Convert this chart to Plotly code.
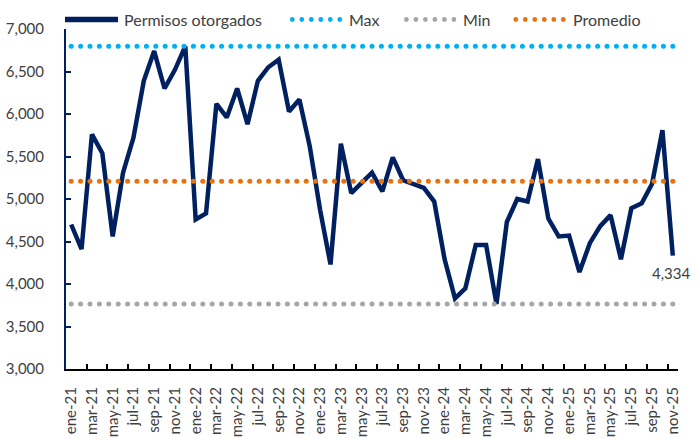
import numpy as np
import plotly.graph_objects as go

# ---------------- data ----------------
months = ["ene", "feb", "mar", "abr", "may", "jun", "jul", "ago", "sep", "oct", "nov", "dic"]
years = ["21", "22", "23", "24", "25"]
categories = [f"{m}-{y}" for y in years for m in months][:59]

permisos = [
    4700, 4410, 5760, 5540, 4560, 5310, 5720, 6390, 6740, 6300, 6520, 6797,   # 2021
    4760, 4830, 6120, 5960, 6300, 5880, 6390, 6550, 6640, 6030, 6170, 5620,   # 2022
    4870, 4230, 5650, 5070, 5190, 5310, 5090, 5490, 5220, 5180, 5130, 4970,   # 2023
    4290, 3830, 3950, 4460, 4460, 3765, 4730, 5000, 4970, 5470, 4770, 4560,   # 2024
    4570, 4140, 4480, 4680, 4810, 4290, 4890, 4950, 5180, 5810, 4334,         # 2025
]
max_val = max(permisos)
min_val = min(permisos)
promedio = 5210

series_names = ["Permisos otorgados", "Max", "Min", "Promedio"]
y_ticks = [3000, 3500, 4000, 4500, 5000, 5500, 6000, 6500, 7000]

# ---------------- styling ----------------
NAVY = "#002060"
BLUE = "#00B0F0"
GRAY = "#A6A6A6"
ORANGE = "#E8730F"
TXT = "#404040"
FONT = "Lato"

W, H = 698, 439
ML, MR, MT, MB = 66, 20, 29, 70
PW, PH = W - ML - MR, H - MT - MB

def px(xp):
    return (xp - ML) / PW

def py(yp):
    return (H - MB - yp) / PH

idx = list(range(len(categories)))
fig = go.Figure()

fig.add_trace(go.Scatter(
    x=idx, y=permisos, mode="lines", name=series_names[0],
    line=dict(color=NAVY, width=4.5), showlegend=False,
))

dot_x = np.linspace(0, len(categories) - 1, 65)
for name, val, col in [(series_names[1], max_val, BLUE),
                       (series_names[2], min_val, GRAY),
                       (series_names[3], promedio, ORANGE)]:
    fig.add_trace(go.Scatter(
        x=dot_x, y=[val] * len(dot_x), mode="markers", name=name,
        marker=dict(color=col, size=5, line=dict(width=0)), showlegend=False,
    ))

# data label on last point
fig.add_annotation(
    x=idx[-1], y=permisos[-1], text=f"{permisos[-1]:,}", showarrow=False,
    yshift=-17, xshift=-1, font=dict(family=FONT, size=15, color=TXT),
)

# ---------------- manual legend ----------------
shapes = []
LY = 19.5
shapes.append(dict(type="line", xref="paper", yref="paper",
                   x0=px(65), x1=px(118), y0=py(LY), y1=py(LY),
                   line=dict(color=NAVY, width=5.5)))
legend_items = [
    (series_names[0], None, 122),
    (series_names[1], (BLUE, 292.3), 347),
    (series_names[2], (GRAY, 406.4), 461),
    (series_names[3], (ORANGE, 515.8), 571),
]
for name, dots, tx in legend_items:
    if dots:
        col, x0 = dots
        for k in range(6):
            cx = x0 + k * 9.5
            shapes.append(dict(type="circle", xref="paper", yref="paper",
                               xsizemode="pixel", ysizemode="pixel",
                               xanchor=px(cx), yanchor=py(LY),
                               x0=-2.4, x1=2.4, y0=-2.4, y1=2.4,
                               fillcolor=col, line=dict(width=0)))
    fig.add_annotation(xref="paper", yref="paper", x=px(tx), y=py(LY),
                       text=name, showarrow=False, xanchor="left", yanchor="middle",
                       font=dict(family=FONT, size=16, color=TXT))

fig.update_layout(
    width=W, height=H,
    margin=dict(l=ML, r=MR, t=MT, b=MB, autoexpand=False),
    paper_bgcolor="white", plot_bgcolor="white",
    font=dict(family=FONT, size=15, color=TXT),
    shapes=shapes,
    showlegend=False,
)

fig.update_xaxes(
    range=[-0.5, len(categories) - 0.5],
    tickmode="array",
    tickvals=idx[::2],
    ticktext=categories[::2],
    tickangle=-90,
    ticks="",
    automargin=False,
    showgrid=False, zeroline=False,
    showline=True, linecolor="#000000", linewidth=2,
    tickfont=dict(family=FONT, size=15, color=TXT),
    ticklabelstandoff=10,
    minor=dict(tickmode="array",
               tickvals=[i + 0.5 for i in idx[1:-1:2]],
               ticks="inside", ticklen=5, tickwidth=1.5, tickcolor="#000000"),
)
fig.update_yaxes(
    range=[3000, 7000],
    tickmode="array", tickvals=y_ticks,
    tickformat=",",
    ticks="inside", ticklen=5, tickwidth=1.5, tickcolor=NAVY,
    automargin=False,
    showgrid=False, zeroline=False,
    showline=True, linecolor=NAVY, linewidth=2,
    tickfont=dict(family=FONT, size=15, color=TXT),
    ticklabelstandoff=17,
)

fig.write_html(
    "out.html",
    config={"displayModeBar": False},
    post_script="document.body.style.margin='0';document.body.style.padding='0';",
)
